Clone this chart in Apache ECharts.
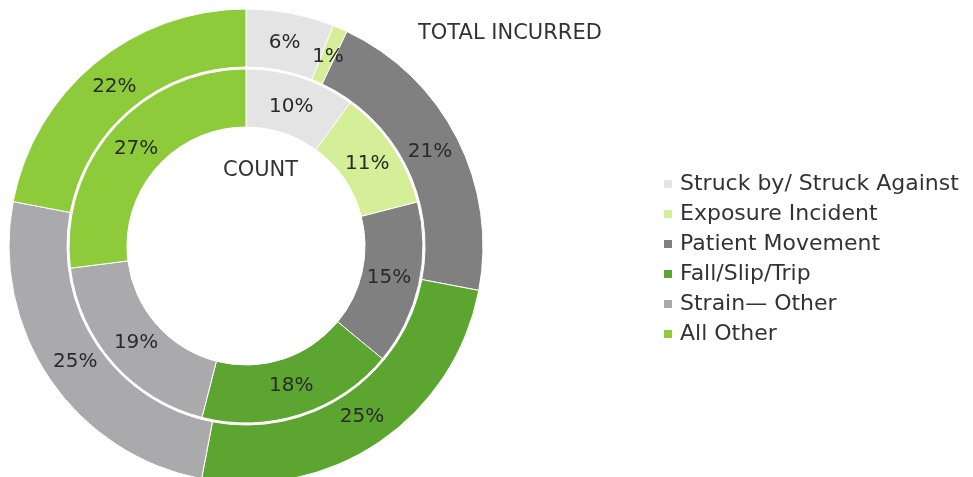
<!DOCTYPE html>
<html><head><meta charset="utf-8">
<script src="https://cdn.jsdelivr.net/npm/echarts@6/dist/echarts.min.js"></script>
<style>html,body{margin:0;padding:0;background:#fff}#c{width:973px;height:477px}</style>
</head><body><div id="c"></div>
<script>
const categories = ["Struck by/ Struck Against","Exposure Incident","Patient Movement","Fall/Slip/Trip","Strain\u2014 Other","All Other"];
const countValues = [10, 11, 15, 18, 19, 27];
const incurredValues = [6, 1, 21, 25, 25, 22];
const colors = ["#e4e4e4","#d5ee98","#808080","#5ca530","#aaaaac","#8dcb3b"];
const fontFam = "'DejaVu Sans', 'Liberation Sans', Arial, sans-serif";
const CX = 246, CY = 246;

const mk = vals => categories.map((n,i)=>({name:n, value:vals[i]}));
// pull each slice label slightly toward the centre
const inward = function (p) {
  const r = p.labelRect;
  const cx = r.x + r.width / 2, cy = r.y + r.height / 2;
  const dx = cx - CX, dy = cy - CY, d = Math.hypot(dx, dy) || 1;
  const k = (d - 4.5) / d;
  return { x: CX + dx * k, y: CY + dy * k, align: 'center', verticalAlign: 'middle' };
};
const chart = echarts.init(document.getElementById('c'));
chart.setOption({
  animation:false,
  color: colors,
  legend:{
    orient:'vertical', left:657, top:164,
    data: categories,
    itemWidth:10, itemHeight:10, itemGap:0,
    icon:'rect',
    textStyle:{fontSize:22, lineHeight:30, color:'#333', fontFamily:fontFam, padding:[0,0,0,2]}
  },
  graphic:[
    {type:'text', x:223, y:171, style:{text:'COUNT', fontSize:21, fill:'#333', fontFamily:fontFam, align:'left', verticalAlign:'middle'}},
    {type:'text', x:418, y:34, style:{text:'TOTAL INCURRED', fontSize:21, fill:'#333', fontFamily:fontFam, align:'left', verticalAlign:'middle'}}
  ],
  series:[
    {
      name:'Count', type:'pie', center:[CX,CY], radius:[119,177],
      startAngle:90, clockwise:true, avoidLabelOverlap:false,
      itemStyle:{borderColor:'#fff', borderWidth:1},
      label:{position:'inside', formatter:'{c}%', fontSize:20, color:'#2a2a2a', fontFamily:fontFam},
      labelLine:{show:false},
      labelLayout: inward,
      data: mk(countValues)
    },
    {
      name:'Total Incurred', type:'pie', center:[CX,CY], radius:[179,237],
      startAngle:90, clockwise:true, avoidLabelOverlap:false,
      itemStyle:{borderColor:'#fff', borderWidth:1},
      label:{position:'inside', formatter:'{c}%', fontSize:20, color:'#2a2a2a', fontFamily:fontFam},
      labelLine:{show:false},
      labelLayout: inward,
      data: mk(incurredValues)
    }
  ]
});
</script></body></html>
